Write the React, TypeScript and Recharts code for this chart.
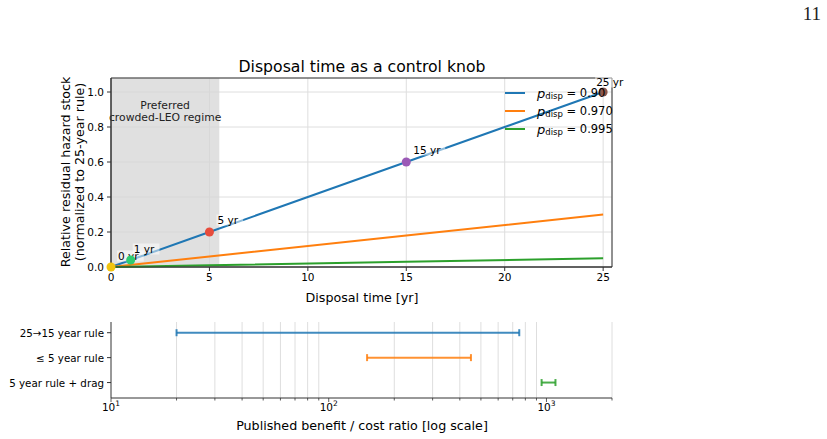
import {
  ComposedChart,
  Line,
  Scatter,
  XAxis,
  YAxis,
  CartesianGrid,
  ReferenceArea,
  ReferenceLine,
  Legend,
} from 'recharts';

// ---- top panel: residual hazard vs disposal time ----
const disposalYears = [0, 5, 15, 25];
const hazardP090 = [0, 0.2, 0.6, 1.0];
const hazardP0970 = [0, 0.06, 0.18, 0.3];
const hazardP0995 = [0, 0.01, 0.03, 0.05];
const pDispValues = ['0.90', '0.970', '0.995'];

const milestoneYears = [0, 1, 5, 15, 25];
const milestoneHazard = [0, 0.04, 0.2, 0.6, 1.0];
const milestoneLabels = ['0 yr', '1 yr', '5 yr', '15 yr', '25 yr'];

const topXTicks = [0, 5, 10, 15, 20, 25];
const topYTicks = [0, 0.2, 0.4, 0.6, 0.8, 1.0];

// ---- bottom panel: published benefit / cost ratios ----
const ruleNames = ['25\u219215 year rule', '\u2264 5 year rule', '5 year rule + drag'];
const ratioLow = [20, 150, 950];
const ratioHigh = [750, 450, 1100];
const logMajorTicks = [10, 100, 1000];
const logMinorTicks = [20, 30, 40, 50, 60, 70, 80, 90, 200, 300, 400, 500, 600, 700, 800, 900, 2000];

// styles
const FONT = '"DejaVu Sans", sans-serif';
const AXIS = '#333';
const GRID = '#dedede';
const seriesColors = ['#1f77b4', '#ff7f0e', '#2ca02c'];
const markerColors = ['#f1c40f', '#2ecc71', '#e74c3c', '#9b59b6', '#8c564b'];
const labelOffsets = [
  [7, -11],
  [3, -11],
  [8, -12],
  [7, -12],
  [-7, -10],
];

const hazardTable = disposalYears.map((t, i) => ({
  t,
  p090: hazardP090[i],
  p0970: hazardP0970[i],
  p0995: hazardP0995[i],
}));

const milestoneTable = milestoneYears.map((t, i) => ({
  t,
  h: milestoneHazard[i],
  label: milestoneLabels[i],
  i,
}));

const ruleRows = ruleNames.map((_, i) => [
  { x: ratioLow[i], row: i },
  { x: ratioHigh[i], row: i },
]);

function MilestoneDot(props: any) {
  const { cx, cy, payload } = props;
  const i = payload.i;
  const [dx, dy] = labelOffsets[i];
  const w = payload.label.length * 6.2 + 2;
  return (
    <g>
      <circle cx={cx} cy={cy} r={4.5} fill={markerColors[i]} />
      <rect x={cx + dx - 1} y={cy + dy - 5.5} width={w} height={11} fill="#fff" fillOpacity={0.5} />
      <text
        x={cx + dx}
        y={cy + dy}
        dominantBaseline="central"
        fontSize={10.5}
        fontFamily={FONT}
        fill="#000"
      >
        {payload.label}
      </text>
    </g>
  );
}

function RegimeLabel(props: any) {
  const vb = props.viewBox || {};
  const cx = vb.x + vb.width / 2;
  return (
    <text x={cx} textAnchor="middle" fontSize={10.8} fontFamily={FONT} fill="#222">
      <tspan x={cx} y={vb.y + 31}>Preferred</tspan>
      <tspan x={cx} y={vb.y + 43}>crowded-LEO regime</tspan>
    </text>
  );
}

function HazardLegend() {
  return (
    <svg width={130} height={56}>
      {pDispValues.map((v, i) => (
        <g key={v}>
          <line x1={5} x2={25} y1={9 + i * 18} y2={9 + i * 18} stroke={seriesColors[i]} strokeWidth={2} />
          <text x={37} y={9 + i * 18} dominantBaseline="central" fontSize={11.5} fontFamily={FONT} fill="#000">
            <tspan fontStyle="italic" fontSize={13}>p</tspan>
            <tspan fontSize={8.5} dy={3}>disp</tspan>
            <tspan dy={-3}> = {v}</tspan>
          </text>
        </g>
      ))}
    </svg>
  );
}

function ErrCap(props: any) {
  const { cx, cy, fill } = props;
  return <line x1={cx} x2={cx} y1={cy - 3.5} y2={cy + 3.5} stroke={fill} strokeWidth={2} strokeOpacity={0.85} />;
}

function LogTick(props: any) {
  const { x, y, payload } = props;
  const v = payload.value;
  const major = logMajorTicks.includes(v);
  const exp = Math.round(Math.log10(v));
  return (
    <g>
      <line x1={x} x2={x} y1={y} y2={y + (major ? 4 : 2.5)} stroke={AXIS} strokeWidth={0.8} />
      {major && (
        <text x={x} y={y + 13} textAnchor="middle" fontSize={10.5} fontFamily={FONT} fill="#000">
          10
          <tspan fontSize={7.5} dy={-5}>{exp}</tspan>
        </text>
      )}
    </g>
  );
}

function RuleTick(props: any) {
  const { x, y, payload } = props;
  return (
    <text x={x} y={y} textAnchor="end" dominantBaseline="central" fontSize={10.3} fontFamily={FONT} fill="#000">
      {ruleNames[payload.value]}
    </text>
  );
}

export default function App() {
  return (
    <div
      style={{
        position: 'absolute',
        left: 0,
        top: 0,
        width: 827,
        height: 439,
        background: '#fff',
        fontFamily: FONT,
        overflow: 'hidden',
      }}
    >
      {/* Top panel */}
      <div style={{ position: 'absolute', left: 0, top: 0 }}>
        <ComposedChart
          width={827}
          height={310}
          data={hazardTable}
          margin={{ top: 78, right: 215, left: 71, bottom: 18 }}
        >
          <CartesianGrid stroke={GRID} strokeWidth={1} />
          <ReferenceArea x1={0} x2={5.5} y1={0} y2={1.08} fill="#d6d6d6" fillOpacity={0.75} stroke="none" label={(p: any) => <RegimeLabel {...p} />} />
          <XAxis
            dataKey="t"
            type="number"
            domain={[0, 25.45]}
            ticks={topXTicks}
            interval={0}
            height={25}
            tickSize={4}
            tickMargin={3}
            stroke={AXIS}
            tick={{ fontSize: 10.5, fontFamily: FONT, fill: '#000' }}
          />
          <YAxis
            type="number"
            domain={[0, 1.08]}
            ticks={topYTicks}
            interval={0}
            width={40}
            tickSize={4}
            tickMargin={3}
            stroke={AXIS}
            tickFormatter={(v: number) => v.toFixed(1)}
            tick={{ fontSize: 10.5, fontFamily: FONT, fill: '#000' }}
          />
          <ReferenceArea x1={0} x2={25.45} y1={0} y2={1.08} fill="none" stroke={AXIS} strokeWidth={1} />
          <Line type="linear" dataKey="p090" name={pDispValues[0]} stroke={seriesColors[0]} strokeWidth={2} dot={false} isAnimationActive={false} />
          <Line type="linear" dataKey="p0970" name={pDispValues[1]} stroke={seriesColors[1]} strokeWidth={2} dot={false} isAnimationActive={false} />
          <Line type="linear" dataKey="p0995" name={pDispValues[2]} stroke={seriesColors[2]} strokeWidth={2} dot={false} isAnimationActive={false} />
          <Scatter data={milestoneTable} dataKey="h" shape={<MilestoneDot />} isAnimationActive={false} legendType="none" />
          <Legend
            layout="vertical"
            align="center"
            verticalAlign="middle"
            content={() => <HazardLegend />}
            wrapperStyle={{ left: 500, top: 84, width: 130, height: 56 }}
          />
        </ComposedChart>
      </div>

      {/* Bottom panel */}
      <div style={{ position: 'absolute', left: 0, top: 300 }}>
        <ComposedChart width={827} height={139} margin={{ top: 22, right: 215, left: 71, bottom: 16 }}>
          {logMinorTicks.map((v) => (
            <ReferenceLine key={v} x={v} stroke={GRID} strokeWidth={1} />
          ))}
          <XAxis
            dataKey="x"
            type="number"
            scale="log"
            domain={[10, 2000]}
            allowDataOverflow
            ticks={[...logMajorTicks, ...logMinorTicks]}
            interval={0}
            height={25}
            tickSize={0}
            tickMargin={0}
            tickLine={false}
            stroke={AXIS}
            tick={<LogTick />}
          />
          <YAxis
            type="number"
            domain={[-0.43, 2.62]}
            reversed
            allowDataOverflow
            ticks={[0, 1, 2]}
            interval={0}
            width={40}
            tickSize={4}
            tickMargin={3}
            stroke={AXIS}
            tick={<RuleTick />}
          />
          {ruleRows.map((rows, i) => (
            <Scatter
              key={i}
              data={rows}
              dataKey="row"
              fill={seriesColors[i]}
              line={{ stroke: seriesColors[i], strokeWidth: 2, strokeOpacity: 0.85 }}
              lineType="joint"
              shape={<ErrCap />}
              isAnimationActive={false}
            />
          ))}
        </ComposedChart>
      </div>

      {/* Titles and axis labels */}
      <svg width={827} height={439} style={{ position: 'absolute', left: 0, top: 0, pointerEvents: 'none' }}>
        <text x={821} y={13} textAnchor="end" dominantBaseline="central" fontSize={19} fontFamily='"Liberation Serif", serif' fill="#222">
          11
        </text>
        <text x={362} y={66} textAnchor="middle" dominantBaseline="central" fontSize={15.7} fontFamily={FONT} fill="#000">
          Disposal time as a control knob
        </text>
        <text x={362} y={297} textAnchor="middle" dominantBaseline="central" fontSize={12.7} fontFamily={FONT} fill="#000">
          Disposal time [yr]
        </text>
        <g transform="translate(65 172) rotate(-90)">
          <text x={0} y={0} textAnchor="middle" dominantBaseline="central" fontSize={12.7} fontFamily={FONT} fill="#000">
            Relative residual hazard stock
          </text>
        </g>
        <g transform="translate(79 172) rotate(-90)">
          <text x={0} y={0} textAnchor="middle" dominantBaseline="central" fontSize={12.7} fontFamily={FONT} fill="#000">
            (normalized to 25-year rule)
          </text>
        </g>
        <text x={362} y={425} textAnchor="middle" dominantBaseline="central" fontSize={12.7} fontFamily={FONT} fill="#000">
          Published benefit / cost ratio [log scale]
        </text>
      </svg>
    </div>
  );
}
